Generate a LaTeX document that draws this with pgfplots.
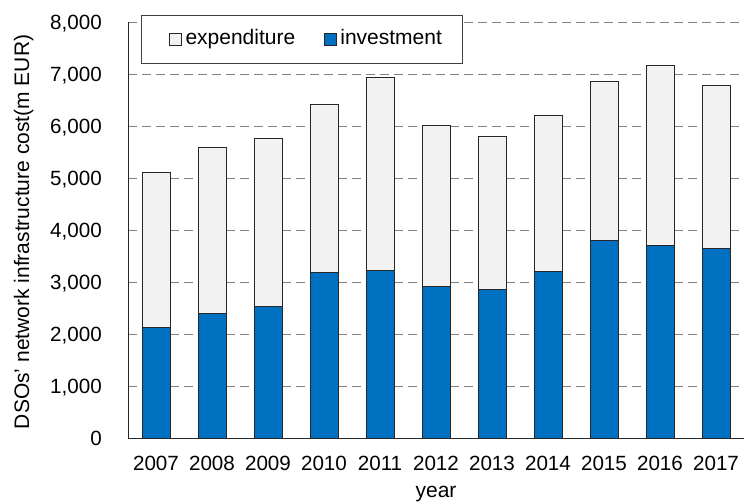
\documentclass[border=0pt]{standalone}
\usepackage{pgfplots}
\pgfplotsset{compat=1.18}
\usepackage{fontspec}
\setmainfont{Liberation Sans}
\definecolor{invblue}{HTML}{0070C0}
\definecolor{expgray}{HTML}{F2F2F2}
\begin{document}
\begin{tikzpicture}
\begin{axis}[
  at={(128pt,63pt)}, anchor=south west,
  width=616pt, height=416pt, scale only axis,
  ybar stacked, bar width=28pt,
  xmin=-0.5, xmax=10.5, ymin=0, ymax=8000,
  xtick={0,...,10},
  xticklabels={2007,2008,2009,2010,2011,2012,2013,2014,2015,2016,2017},
  ytick={0,1000,...,8000},
  major tick length=0pt,
  axis lines*=left,
  axis line style={black!85, line width=1pt},
  ymajorgrids,
  major grid style={black!50, line width=1pt, dash pattern=on 9pt off 5pt},
  /pgf/number format/.cd, 1000 sep={,}, assume math mode=true, /pgfplots/.cd,
  ticklabel style={font=\fontsize{20.6}{24}\selectfont},
  xticklabel style={anchor=base, inner sep=0pt, yshift=-32.7pt},
  yticklabel style={anchor=base east, inner sep=0pt, xshift=-26pt, yshift=-7.3pt},
  xlabel={year},
  ylabel={DSOs' network infrastructure cost(m EUR)},
  label style={font=\fontsize{21}{25}\selectfont},
  xlabel style={at={(axis description cs:0.5,-0.144)}, anchor=base},
  ylabel style={at={(axis description cs:-0.1607,0.4955)}, anchor=base, rotate=0},
  legend columns=2,
  reverse legend,
  legend style={at={(axis description cs:0.0211,1.0168)}, anchor=north west,
    draw=black!75, line width=0.8pt, inner xsep=17pt, inner ysep=13.5pt,
    font=\fontsize{21}{25}\selectfont,
    nodes={inner xsep=3.6pt, inner ysep=0pt, text height=15.7pt, text depth=5.2pt},
    /tikz/every even column/.append style={column sep=14.4pt}},
  legend image code/.code={\path (-11pt,0pt); \draw[#1, line width=0.7pt] (0pt,-5.85pt) rectangle (11.7pt,5.85pt);},
]
\addplot[fill=invblue, draw=black!85, line width=0.9pt] coordinates {
(0,2131) (1,2387) (2,2536) (3,3191) (4,3222) (5,2913) (6,2850) (7,3203) (8,3794) (9,3697) (10,3640)};
\addlegendentry{investment}
\addplot[fill=expgray, draw=black!85, line width=0.9pt] coordinates {
(0,2979) (1,3193) (2,3223) (3,3217) (4,3718) (5,3102) (6,2942) (7,2999) (8,3063) (9,3469) (10,3140)};
\addlegendentry{expenditure}
\end{axis}
\pgfresetboundingbox
\path[use as bounding box] (0pt,0pt) rectangle (744pt,501pt);
\end{tikzpicture}
\end{document}
